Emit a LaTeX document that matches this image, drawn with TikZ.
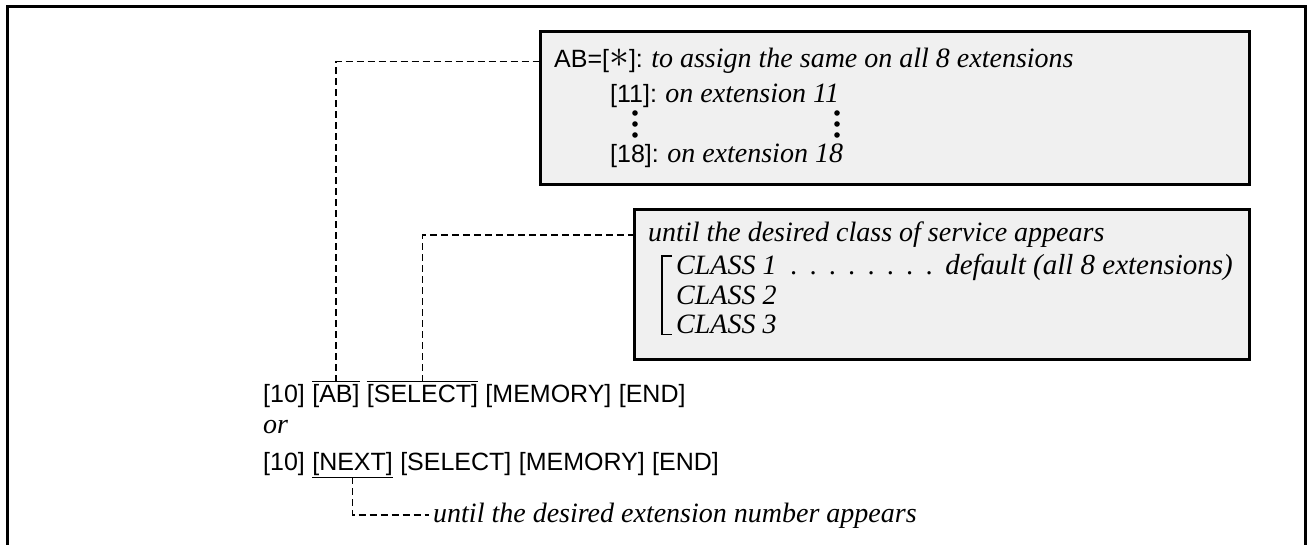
\documentclass[tikz,border=0pt]{standalone}
\usepackage{fontspec}
\setmainfont{Liberation Serif}
\setsansfont{Liberation Sans}
\usetikzlibrary{positioning, calc}

\begin{document}
\begin{tikzpicture}[
        x=1pt, y=-1pt,
        panel/.style={rectangle, draw=black, line width=2.8pt, fill=black!6, anchor=north west, inner sep=0pt},
        keys/.style={font=\sffamily\fontsize{25}{30}\selectfont, inner sep=0pt, anchor=base west},
        note/.style={font=\itshape\fontsize{28}{32}\selectfont, inner sep=0pt, anchor=base west},
        leader/.style={line width=1.6pt, dash pattern=on 7pt off 4pt},
        bar/.style={line width=1.6pt}
    ]
    \useasboundingbox (0,0) rectangle (1309,545);

    % Frame
    \draw [line width=3pt] (7,545) |- (1305,7) -- (1305,545);

    % Boxes
    \node (box1) [panel, minimum width=709pt, minimum height=153pt] at (539,30) {};
    \node (box2) [panel, minimum width=615pt, minimum height=150pt] at (633,208) {};

    % Box 1 text
    \node (abeq) [keys] at (554,68) {AB=[\scalebox{1.6}{$\ast$}]:};
    \node (assign) [note, base right=8pt of abeq] {to assign the same on all 8 extensions};
    \node (k11) [keys] at (610,103) {[11]:};
    \node (ext11) [note, base right=8pt of k11] {on extension 11};
    \node (k18) [keys] at (610,163) {[18]:};
    \node (ext18) [note, base right=8pt of k18] {on extension 18};
    \foreach \y in {113,124,135} {
        \fill (635,\y) circle (2.8pt);
        \fill (837,\y) circle (2.8pt);
    }

    % Box 2 text
    \node (until) [note] at (648,242) {until the desired class of service appears};
    \node (cls1) [note] at (676,275) {CLASS 1};
    \node (cls2) [note] at (676,305) {CLASS 2};
    \node (cls3) [note] at (676,334) {CLASS 3};
    \node (dots) [note, base right=14pt of cls1] {\spaceskip=10pt . . . . . . . .};
    \node (default) [note, font=\itshape\fontsize{29}{32}\selectfont, anchor=base east] at (1233,275) {default (all 8 extensions)};
    \draw [bar] ($(cls1.north west)+(-4,0)$) -| ($(cls3.south west)+(-14,0)$) -- ++(10,0);

    % Key sequences
    \node (ten1) [keys] at (263,402) {[10]};
    \node (ab) [keys, base right=7pt of ten1] {[AB]};
    \node (sel1) [keys, base right=7pt of ab] {[SELECT]};
    \node (mem1) [keys, base right=7pt of sel1] {[MEMORY]};
    \node (end1) [keys, base right=7pt of mem1] {[END]};
    \node (or) [note] at (263,433) {or};
    \node (ten2) [keys] at (263,470) {[10]};
    \node (next) [keys, base right=7pt of ten2] {[NEXT]};
    \node (sel2) [keys, base right=7pt of next] {[SELECT]};
    \node (mem2) [keys, base right=7pt of sel2] {[MEMORY]};
    \node (end2) [keys, base right=7pt of mem2] {[END]};
    \node (extnote) [note] at (433,522) {until the desired extension number appears};

    % Over- and underlines
    \draw [bar] ([yshift=2pt]ab.north west) -- ([yshift=2pt]ab.north east);
    \draw [bar] ([yshift=2pt]sel1.north west) -- ([yshift=2pt]sel1.north east);
    \draw [bar] ([yshift=-2pt]next.south west) -- ([yshift=-2pt]next.south east);

    % Connections
    \draw [leader] ([yshift=2pt]ab.north) |- (abeq.west -| box1.west);
    \draw [leader] ([yshift=2pt]sel1.north) |- (until.west -| box2.west);
    \draw [leader] ([yshift=-2pt]next.south) |- ([xshift=-4pt]extnote.west);

\end{tikzpicture}
\end{document}
